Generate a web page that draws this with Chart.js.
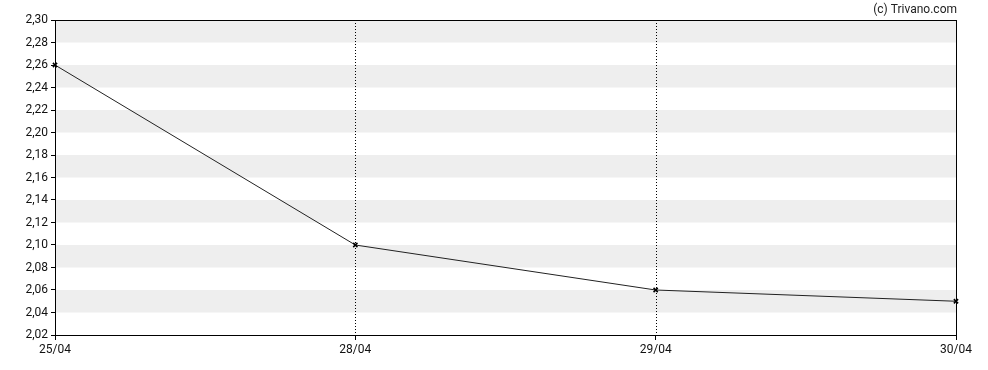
<!DOCTYPE html>
<html>
<head>
<meta charset="utf-8">
<script src="https://cdn.jsdelivr.net/npm/chart.js@4/dist/chart.umd.min.js"></script>
<style>
  html, body { margin: 0; padding: 0; background: #fff; }
  #wrap { position: relative; width: 988px; height: 370px; }
</style>
</head>
<body>
<div id="wrap"><canvas id="priceChart" width="988" height="370"></canvas></div>
<script>
// Daten
const dates = ["25/04", "28/04", "29/04", "30/04"];
const prices = [2.26, 2.10, 2.06, 2.05];
const yMin = 2.02;
const yMax = 2.30;
const yStep = 0.02;

const FONT = "Roboto, 'Liberation Sans', sans-serif";

// Hintergrundstreifen, gepunktete Linien, Rahmen, Copyright
const decoPlugin = {
  id: 'deco',
  beforeDatasetsDraw(chart) {
    const { ctx, chartArea: a, scales } = chart;
    const y = scales.y;
    ctx.save();
    ctx.fillStyle = '#eeeeee';
    // jeder zweite Streifen von oben grau
    for (let v = yMax, i = 0; v > yMin + 1e-9; v -= yStep, i++) {
      if (i % 2 === 0) {
        const top = y.getPixelForValue(v);
        const bot = y.getPixelForValue(v - yStep);
        ctx.fillRect(a.left, top, a.right - a.left, bot - top);
      }
    }
    // gepunktete vertikale Linien für innere Datumswerte
    ctx.strokeStyle = '#000';
    ctx.lineWidth = 1;
    ctx.setLineDash([1, 2]);
    for (let i = 1; i < dates.length - 1; i++) {
      const x = Math.round(scales.x.getPixelForValue(i)) + 0.5;
      ctx.beginPath();
      ctx.moveTo(x, a.top);
      ctx.lineTo(x, a.bottom);
      ctx.stroke();
    }
    ctx.restore();
  },
  afterDraw(chart) {
    const { ctx, chartArea: a } = chart;
    ctx.save();
    ctx.strokeStyle = '#000';
    ctx.lineWidth = 1;
    ctx.strokeRect(Math.round(a.left) + 0.5, Math.round(a.top) + 0.5,
      Math.round(a.right - a.left), Math.round(a.bottom - a.top));
    ctx.fillStyle = '#222';
    ctx.font = '12px ' + FONT;
    ctx.textAlign = 'right';
    ctx.textBaseline = 'alphabetic';
    ctx.fillText('(c) Trivano.com', 957, 13);
    ctx.restore();
  }
};

new Chart(document.getElementById('priceChart'), {
  type: 'line',
  data: {
    labels: dates,
    datasets: [{
      data: prices,
      borderColor: '#222',
      borderWidth: 1,
      pointStyle: 'crossRot',
      pointRadius: 3,
      pointBorderColor: '#000',
      pointBorderWidth: 1.5,
      fill: false,
      tension: 0
    }]
  },
  options: {
    responsive: false,
    animation: false,
    layout: { padding: { left: 0, right: 32, top: 20, bottom: 0 } },
    plugins: {
      legend: { display: false },
      tooltip: { enabled: false }
    },
    scales: {
      x: {
        type: 'category',
        offset: false,
        grid: { drawOnChartArea: false, drawTicks: true, tickLength: 5, color: '#000' },
        border: { display: false },
        ticks: { color: '#111', font: { family: FONT, size: 12 }, padding: 3, maxRotation: 0, autoSkip: false },
        afterFit(scale) { scale.height = 35; }
      },
      y: {
        min: yMin,
        max: yMax,
        grid: { drawOnChartArea: false, drawTicks: true, tickLength: 4, color: '#000' },
        border: { display: false },
        ticks: {
          stepSize: yStep,
          color: '#111',
          font: { family: FONT, size: 12 },
          padding: 3,
          callback: v => v.toFixed(2).replace('.', ',')
        },
        afterFit(scale) { scale.width = 55; }
      }
    }
  },
  plugins: [decoPlugin]
});
</script>
</body>
</html>
